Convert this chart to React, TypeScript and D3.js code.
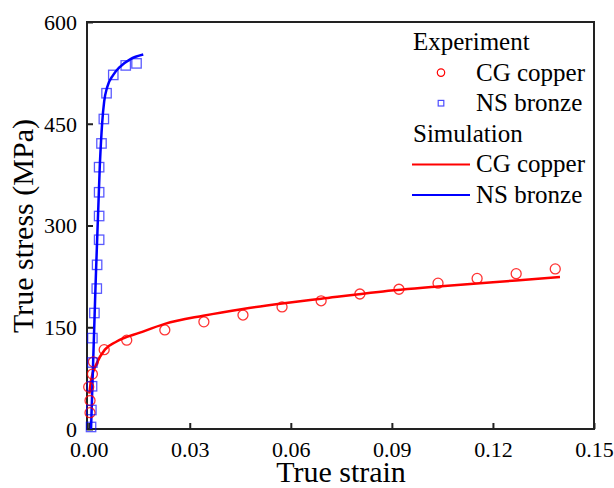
import React, { useRef, useEffect } from "react";
import { select, scaleLinear, axisBottom, axisLeft, line, curveMonotoneX } from "d3";

// experiment: CG copper (strain, stress MPa)
const cuStrain = [0.0004, 0.0004, 0.0, 0.0011, 0.0014, 0.0046, 0.0113, 0.0226, 0.0342, 0.0458, 0.0574, 0.069, 0.0805, 0.0921, 0.1037, 0.1153, 0.1269, 0.1385];
const cuStress = [24, 42, 62, 81, 99, 117, 131, 146, 158, 168, 180, 189, 199, 206, 215, 222, 229, 236];

// experiment: NS bronze
const brStrain = [0.0007, 0.0008, 0.001, 0.0011, 0.0011, 0.0017, 0.0024, 0.0025, 0.0031, 0.0031, 0.0031, 0.0031, 0.0038, 0.0045, 0.0053, 0.0073, 0.011, 0.0142];
const brStress = [3, 28, 63, 98, 134, 171, 207, 242, 279, 314, 349, 386, 421, 457, 495, 522, 536, 539];

// simulation curves
const simCuStrain = [0.0002, 0.0007, 0.0024, 0.0048, 0.0083, 0.0152, 0.0226, 0.034, 0.0458, 0.0574, 0.069, 0.086, 0.1037, 0.1269, 0.1399];
const simCuStress = [52, 72, 97, 117, 129, 142, 155, 167, 177, 185, 192, 202, 210, 219, 224];
const simBrStrain = [0.0007, 0.0019, 0.0033, 0.004, 0.0046, 0.0055, 0.0073, 0.0093, 0.0123, 0.0162];
const simBrStress = [0, 190, 388, 451, 483, 504, 522, 534, 545, 552];

const xTicks = [0, 0.03, 0.06, 0.09, 0.12, 0.15];
const yTicks = [0, 150, 300, 450, 600];

const legendItems = [
  { label: "Experiment", kind: "title" },
  { label: "CG copper", kind: "circle" },
  { label: "NS bronze", kind: "square" },
  { label: "Simulation", kind: "title" },
  { label: "CG copper", kind: "redline" },
  { label: "NS bronze", kind: "blueline" },
];

const RED = "#ff0000";
const BLUE = "#0000ff";
const FONT = "Liberation Serif, DejaVu Serif, Times New Roman, serif";

function App() {
  const svgRef = useRef(null);

  useEffect(() => {
    const svg = select(svgRef.current);
    svg.selectAll("*").remove();
    svg.style("font-family", FONT);

    const left = 87, right = 594, top = 22, bottom = 429;
    const x = scaleLinear().domain([-0.0005, 0.15]).range([left, right]);
    const y = scaleLinear().domain([0, 600]).range([bottom, top]);

    // axes with inward ticks
    const gx = svg.append("g").attr("transform", `translate(0,${bottom})`)
      .call(axisBottom(x).tickValues(xTicks).tickFormat((d) => d.toFixed(2)).tickSizeInner(-6).tickSizeOuter(0).tickPadding(12));
    const gy = svg.append("g").attr("transform", `translate(${left},0)`)
      .call(axisLeft(y).tickValues(yTicks).tickSizeInner(-6).tickSizeOuter(0).tickPadding(10));
    [gx, gy].forEach((g) => {
      g.attr("font-family", null).attr("font-size", null);
      g.select(".domain").remove();
      g.selectAll("line").attr("stroke", "#222").attr("stroke-width", 2);
      g.selectAll("text").style("font-family", FONT).attr("font-size", 22).attr("fill", "#000");
    });
    gy.selectAll("text").attr("dy", "0.34em");

    svg.append("rect")
      .attr("x", left).attr("y", top)
      .attr("width", right - left).attr("height", bottom - top)
      .attr("fill", "none").attr("stroke", "#222").attr("stroke-width", 2);

    // simulation lines
    const lineGen = line().x((d) => x(d[0])).y((d) => y(d[1])).curve(curveMonotoneX);
    svg.append("path")
      .attr("d", lineGen(simCuStrain.map((v, i) => [v, simCuStress[i]])))
      .attr("fill", "none").attr("stroke", RED).attr("stroke-width", 2.5);
    svg.append("path")
      .attr("d", lineGen(simBrStrain.map((v, i) => [v, simBrStress[i]])))
      .attr("fill", "none").attr("stroke", BLUE).attr("stroke-width", 2.5);

    // experiment markers
    svg.append("g").selectAll("circle")
      .data(cuStrain.map((v, i) => [v, cuStress[i]]))
      .enter().append("circle")
      .attr("cx", (d) => x(d[0])).attr("cy", (d) => y(d[1])).attr("r", 5)
      .attr("fill", "none").attr("stroke", RED).attr("stroke-opacity", 0.8).attr("stroke-width", 1.3);
    svg.append("g").selectAll("rect")
      .data(brStrain.map((v, i) => [v, brStress[i]]))
      .enter().append("rect")
      .attr("x", (d) => x(d[0]) - 4.7).attr("y", (d) => y(d[1]) - 4.7)
      .attr("width", 9.4).attr("height", 9.4)
      .attr("fill", "none").attr("stroke", BLUE).attr("stroke-opacity", 0.65).attr("stroke-width", 1.3);

    // legend
    const lg = svg.append("g");
    legendItems.forEach((item, i) => {
      const cy = 42 + i * 30.6;
      const tx = item.kind === "title" ? 413 : 476;
      lg.append("text").attr("x", tx).attr("y", cy + 8)
        .style("font-family", FONT).attr("font-size", 25).text(item.label);
      if (item.kind === "circle") {
        lg.append("circle").attr("cx", 441).attr("cy", cy).attr("r", 3.7)
          .attr("fill", "none").attr("stroke", RED).attr("stroke-width", 1.2);
      } else if (item.kind === "square") {
        lg.append("rect").attr("x", 438.2).attr("y", cy - 2.8).attr("width", 5.6).attr("height", 5.6)
          .attr("fill", "none").attr("stroke", BLUE).attr("stroke-opacity", 0.7).attr("stroke-width", 1.2);
      } else if (item.kind !== "title") {
        lg.append("line").attr("x1", 412).attr("x2", 470).attr("y1", cy).attr("y2", cy)
          .attr("stroke", item.kind === "redline" ? RED : BLUE).attr("stroke-width", 2);
      }
    });

    // axis titles
    svg.append("text").attr("x", 341).attr("y", 482).attr("text-anchor", "middle")
      .style("font-family", FONT).attr("font-size", 30).text("True strain");
    svg.append("text").attr("transform", "translate(33,226) rotate(-90)").attr("text-anchor", "middle")
      .style("font-family", FONT).attr("font-size", 30).text("True stress (MPa)");
  }, []);

  return (
    <div style={{ position: "absolute", left: 0, top: 0 }}>
      <svg ref={svgRef} width={614} height={488} style={{ display: "block", background: "#fff" }} />
    </div>
  );
}

export default App;
